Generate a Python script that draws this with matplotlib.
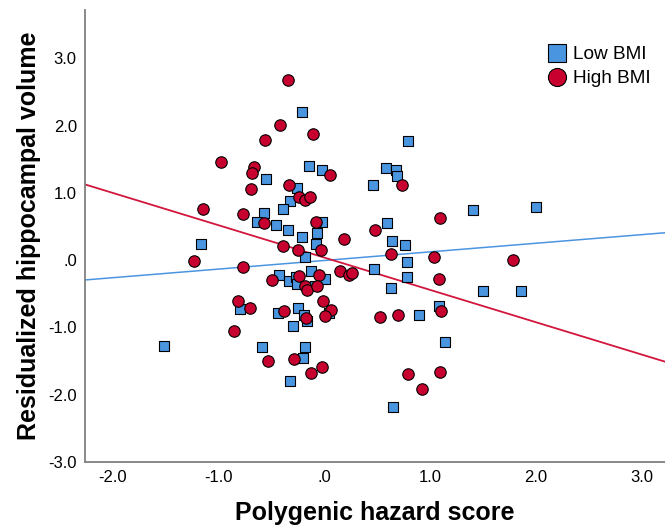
import matplotlib
matplotlib.use("Agg")
import matplotlib.pyplot as plt
from matplotlib.lines import Line2D

plt.rcParams["font.family"] = ["Liberation Sans", "DejaVu Sans"]

# Low BMI group (squares)
low_x = [-0.208, -0.145, -0.025, -0.554, -0.261, -0.327, -0.390, -0.573, -0.636, -0.459,
         -0.025, -0.346, -0.208, -0.066, -1.165, -0.081, -0.182, -0.428, -0.336, -0.267,
         -0.261, -0.123, 0.007, -0.091, -0.800, -0.435, -0.251, -0.189, -0.164, 0.044,
         -0.296, -1.514, -0.586, -0.182, -0.201, -0.327, 0.791, 0.583, 0.681, 0.690,
         0.457, 1.403, 1.998, 0.590, 0.643, 0.763, 0.784, 0.467, 0.782, 0.630,
         1.497, 1.856, 1.084, 0.895, 1.138, 0.646]
low_y = [2.206, 1.404, 1.334, 1.211, 1.067, 0.884, 0.761, 0.695, 0.562, 0.517,
         0.562, 0.453, 0.339, 0.398, 0.245, 0.241, 0.048, -0.226, -0.315, -0.250,
         -0.354, -0.156, -0.279, -0.379, -0.721, -0.780, -0.716, -0.814, -0.899, -0.780,
         -0.973, -1.275, -1.285, -1.296, -1.459, -1.790, 1.771, 1.370, 1.340, 1.245,
         1.117, 0.746, 0.790, 0.557, 0.285, 0.226, -0.033, -0.126, -0.256, -0.409,
         -0.453, -0.464, -0.676, -0.814, -1.211, -2.187]

# High BMI group (circles)
high_x = [-0.340, -0.416, -0.107, -0.563, -0.974, -0.669, -0.681, 0.057, -0.336, -0.693,
          -0.242, -0.185, -0.135, -1.151, -0.768, -0.570, -0.078, 0.189, -0.390, -0.246,
          -0.034, -1.232, -0.766, -0.491, -0.236, -0.050, -0.182, -0.161, -0.066, 0.148,
          0.231, 0.262, -0.819, -0.707, -0.009, -0.378, -0.176, 0.063, 0.009, -0.853,
          -0.535, -0.286, -0.025, -0.129, 0.734, 1.094, 0.476, 0.628, 1.034, 1.784,
          1.084, 1.106, 0.524, 0.699, 0.788, 1.094, 0.926]
high_y = [2.672, 2.009, 1.880, 1.786, 1.459, 1.385, 1.296, 1.270, 1.117, 1.058,
          0.939, 0.899, 0.933, 0.768, 0.686, 0.557, 0.568, 0.319, 0.211, 0.146,
          0.156, -0.007, -0.097, -0.294, -0.230, -0.226, -0.379, -0.449, -0.379, -0.156,
          -0.226, -0.190, -0.606, -0.716, -0.612, -0.750, -0.865, -0.746, -0.829, -1.058,
          -1.498, -1.464, -1.593, -1.676, 1.122, 0.632, 0.449, 0.086, 0.042, 0.007,
          -0.285, -0.755, -0.844, -0.814, -1.697, -1.667, -1.914]

# fit lines: intercept, slope
low_fit = [-0.004, 0.128]
high_fit = [0.039, -0.4806]

xticks = [-2.0, -1.0, 0.0, 1.0, 2.0, 3.0]
yticks = [-3.0, -2.0, -1.0, 0.0, 1.0, 2.0, 3.0]


def fmt(v):
    return ".0" if v == 0 else "%.1f" % v


blue = "#4a95e0"
red = "#c8002f"

fig = plt.figure(figsize=(6.65, 5.26), dpi=100)
ax = fig.add_axes([0.128, 0.1217, 0.872, 0.8593])
ax.set_xlim(-2.262, 3.22)
ax.set_ylim(-3.0, 3.72)

ax.axline((0, low_fit[0]), slope=low_fit[1], color="#4a95e0", lw=1.1, zorder=1)
ax.axline((0, high_fit[0]), slope=high_fit[1], color="#d2163c", lw=1.3, zorder=1)

ax.scatter(low_x, low_y, marker="s", s=62, c=blue, edgecolors="black",
           linewidths=0.8, zorder=3)
ax.scatter(high_x, high_y, marker="o", s=68, c=red, edgecolors="black",
           linewidths=0.8, zorder=3)

ax.set_xticks(xticks)
ax.set_xticklabels([fmt(v) for v in xticks])
ax.set_yticks(yticks)
ax.set_yticklabels([fmt(v) for v in yticks])
ax.tick_params(length=0, labelsize=12, pad=6, colors="black")

for side in ["top", "right"]:
    ax.spines[side].set_visible(False)
for side in ["left", "bottom"]:
    ax.spines[side].set_color("#808080")
    ax.spines[side].set_linewidth(1.3)

ax.set_xlabel("Polygenic hazard score", fontsize=18, fontweight="bold", labelpad=11)
ax.set_ylabel("Residualized hippocampal volume", fontsize=18, fontweight="bold", labelpad=5)

handles = [
    Line2D([], [], marker="s", ls="", markersize=13, markerfacecolor=blue,
           markeredgecolor="black", markeredgewidth=0.8, label="Low BMI"),
    Line2D([], [], marker="o", ls="", markersize=13, markerfacecolor=red,
           markeredgecolor="black", markeredgewidth=0.8, label="High BMI"),
]
ax.legend(handles=handles, loc="upper left", bbox_to_anchor=(0.7936, 0.920),
          frameon=False, fontsize=13.7, handletextpad=0.25, labelspacing=0.35,
          borderaxespad=0, borderpad=0, handlelength=1.2)

fig.savefig("out.png", dpi=100)
